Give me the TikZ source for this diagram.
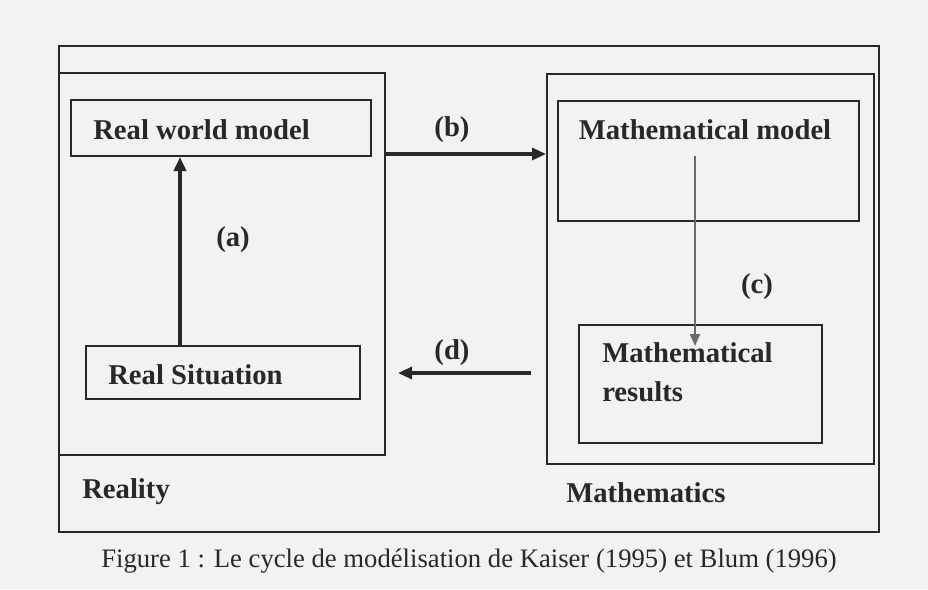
\documentclass[tikz,border=0pt]{standalone}
\usepackage{fontspec}
\setmainfont{Liberation Serif}
\usetikzlibrary{arrows.meta,fit}
\definecolor{paper}{RGB}{242,242,242}
\definecolor{ink}{RGB}{40,40,40}
\definecolor{inkgray}{RGB}{105,105,105}
\begin{document}
\begin{tikzpicture}[x=0.75pt,y=-0.75pt,
  frame/.style={draw=ink,line width=1.5pt,inner sep=0pt,fill=none},
  lbl/.style={inner sep=0pt,text=ink,font=\fontsize{21.5pt}{29.25pt}\selectfont\bfseries},
  arr/.style={draw=ink,line width=2.4pt,-{Triangle[length=10.5pt,width=9pt]}},
  thinarr/.style={draw=inkgray,line width=1.4pt,-{Triangle[length=9pt,width=7.5pt]}},
  captext/.style={inner sep=0pt,text=ink,font=\fontsize{20pt}{24pt}\selectfont}]
\fill[paper] (0,0) rectangle (928,589);
\useasboundingbox (0,0) rectangle (928,589);
% outer frame
\node[frame,fit={(59,46) (879,532)}] (outer) {};
% reality and mathematics boxes
\node[frame,fit={(59,73) (385,455)}] (rbox) {};
\node[frame,fit={(547,74) (874,464)}] (mbox) {};
% inner boxes
\node[frame,fit={(71,100) (371,156)}] (rwm) {};
\node[frame,fit={(86,346) (360,399)}] (rs) {};
\node[frame,fit={(558,101) (859,221)}] (mm) {};
\node[frame,fit={(579,325) (822,443)}] (mr) {};
% texts
\node[lbl,anchor=west] (rwmt) at (93,130) {Real world model};
\node[lbl,anchor=west] (rst) at (108,375) {Real Situation};
\node[lbl] (mmt) at (705,130) {Mathematical model};
\node[lbl,anchor=west,align=left] (mrt) at (602,372) {Mathematical\\results};
\node[lbl,anchor=west] (realt) at (82,492) {Reality};
\node[lbl,anchor=west] (matht) at (566,493) {Mathematics};
\node[lbl] (la) at (233,240) {(a)};
\node[lbl] (lb) at (452,130) {(b)};
\node[lbl] (lc) at (757,287) {(c)};
\node[lbl] (ld) at (452,353) {(d)};
\node[captext] (caption) at (469,561) {Figure 1 : Le cycle de modélisation de Kaiser (1995) et Blum (1996)};
% connectors
\coordinate (ax) at (180,0);
\coordinate (by) at (0,154);
\coordinate (dy) at (0,373);
\coordinate (c1) at (695,156);
\coordinate (c2) at (695,346);
\draw[arr,line width=2.6pt] (rs.north -| ax) -- (rwm.south -| ax);
\draw[arr] (rbox.east |- by) -- (mbox.west |- by);
\draw[thinarr] (c1) -- (c2);
\draw[arr,shorten <=11pt,shorten >=9pt] (mbox.west |- dy) -- (rbox.east |- dy);
\end{tikzpicture}
\end{document}
